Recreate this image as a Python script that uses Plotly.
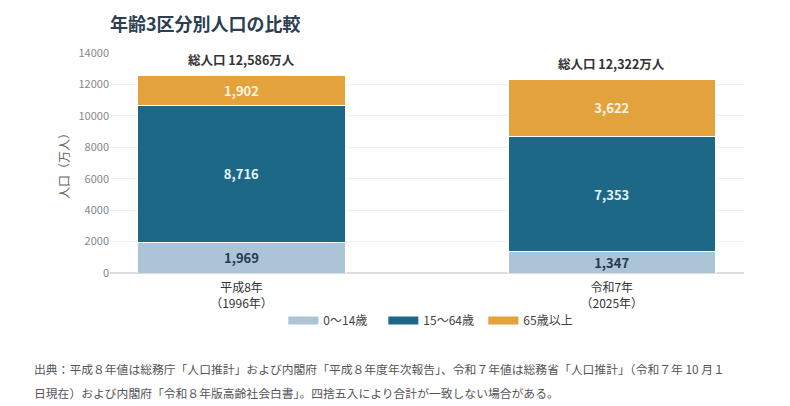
import plotly.graph_objects as go

# data
categories = ["平成8年<br>（1996年）", "令和7年<br>（2025年）"]
age_0_14 = [1969, 1347]
age_15_64 = [8716, 7353]
age_65_plus = [1902, 3622]
totals = [12586, 12322]
series_names = ["0～14歳", "15～64歳", "65歳以上"]

FONT = "Noto Sans CJK JP"
colors = ["#abc5d6", "#1d6887", "#e4a23d"]
label_colors = ["#243a52", "#e6f4fb", "#fff6e3"]

fig = go.Figure()
for name, vals, col, lc in zip(series_names, [age_0_14, age_15_64, age_65_plus], colors, label_colors):
    fig.add_trace(go.Bar(
        x=categories, y=vals, name=name, showlegend=False,
        marker=dict(color=col, line=dict(color="#ffffff", width=1)),
        width=0.56,
        text=[f"{v:,}" for v in vals],
        textposition="inside", insidetextanchor="middle", constraintext="none",
        textfont=dict(family=FONT, size=13, color=lc, weight="bold"),
        hoverinfo="skip",
    ))
    # legend entry drawn as a wide swatch
    fig.add_trace(go.Scatter(
        x=[None], y=[None], mode="lines", name=name,
        line=dict(color=col, width=8), hoverinfo="skip",
    ))

# total labels above bars
for cat, tot in zip(categories, totals):
    fig.add_annotation(
        x=cat, y=tot, text=f"<b>総人口 {tot:,}万人</b>",
        showarrow=False, yanchor="bottom", yshift=4,
        font=dict(family=FONT, size=12.5, color="#333333"),
    )

note_lines = [
    "出典：平成８年値は総務庁「人口推計」および内閣府「平成８年度年次報告」、令和７年値は総務省「人口推計」（令和７年 10 月１",
    "日現在）および内閣府「令和８年版高齢社会白書」。四捨五入により合計が一致しない場合がある。",
]
for i, line in enumerate(note_lines):
    fig.add_annotation(
        xref="paper", yref="paper", x=-0.123, y=-0.432 - 0.109 * i,
        xanchor="left", yanchor="middle",
        text=line, showarrow=False, align="left",
        font=dict(family=FONT, size=11.8, color="#555555"),
    )

fig.update_layout(
    width=790, height=406,
    margin=dict(l=102, r=54, t=45, b=141),
    paper_bgcolor="#ffffff", plot_bgcolor="#ffffff",
    barmode="stack",
    title=dict(text="<b>年齢3区分別人口の比較</b>", x=102 / 790, xanchor="left",
               y=1 - 17 / 406, yanchor="middle",
               font=dict(family=FONT, size=18, color="#2c3e50")),
    font=dict(family=FONT),
    showlegend=True,
    legend=dict(orientation="h", x=0.51, xanchor="center", y=-0.15, yanchor="top",
                font=dict(family=FONT, size=12, color="#444444"),
                itemwidth=30, entrywidth=55, entrywidthmode="pixels",
                traceorder="normal"),
    xaxis=dict(range=[-0.355, 1.357], showgrid=False, zeroline=False, showline=False,
               ticks="", ticklabelstandoff=6,
               tickfont=dict(family=FONT, size=12, color="#333333")),
    yaxis=dict(range=[0, 14000], dtick=2000, tickformat="d",
               showgrid=True, gridcolor="#eeeeee",
               zeroline=True, zerolinecolor="#dddddd", zerolinewidth=1.5,
               tickfont=dict(family=FONT, size=11, color="#888888"),
               title=dict(text="人口（万人）", font=dict(family=FONT, size=12, color="#666666"),
                          standoff=6)),
)

fig.write_html("out.html")
